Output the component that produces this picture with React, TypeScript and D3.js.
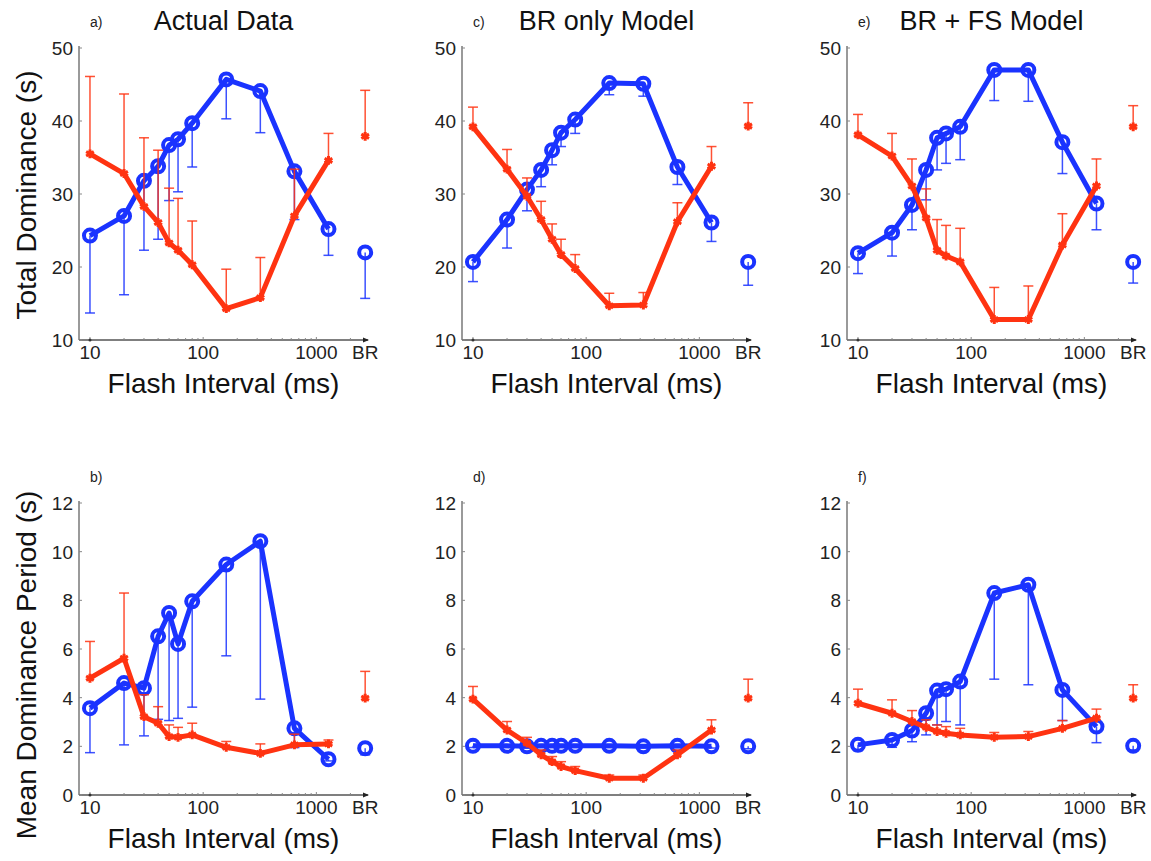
import React from 'react';
import * as d3 from 'd3';

// flash intervals (ms); the last column in every series below is the BR condition
const flashIntervals = [10, 20, 30, 40, 50, 60, 80, 160, 320, 640, 1280];
const brPosition = 2700;
const xTickValues = [10, 100, 1000, brPosition];
const xTickLabels = ['10', '100', '1000', 'BR'];
const totalTicks = [10, 20, 30, 40, 50];
const periodTicks = [0, 2, 4, 6, 8, 10, 12];

// a) Actual Data - total dominance
const aBlue = [24.3, 27.0, 31.8, 33.8, 36.7, 37.5, 39.7, 45.7, 44.1, 33.1, 25.2, 22.0];
const aBlueLo = [13.7, 16.2, 22.3, 23.8, 29.1, 30.3, 33.7, 40.3, 38.4, 26.5, 21.6, 15.7];
const aRed = [35.5, 32.8, 28.3, 26.1, 23.3, 22.3, 20.3, 14.3, 15.8, 27.0, 34.6, 37.9];
const aRedHi = [46.1, 43.7, 37.7, 36.0, 30.8, 29.4, 26.3, 19.7, 21.3, 33.4, 38.3, 44.2];

// c) BR only Model - total dominance
const cBlue = [20.7, 26.5, 30.6, 33.3, 36.0, 38.4, 40.2, 45.2, 45.1, 33.7, 26.1, 20.7];
const cBlueLo = [18.0, 22.6, 27.7, 31.0, 34.0, 36.5, 38.3, 43.6, 43.4, 31.3, 23.5, 17.5];
const cRed = [39.2, 33.4, 29.7, 26.5, 23.8, 21.7, 19.8, 14.7, 14.8, 26.2, 33.8, 39.3];
const cRedHi = [41.9, 36.1, 32.2, 29.0, 25.9, 23.8, 21.7, 16.4, 16.5, 28.8, 36.5, 42.5];

// e) BR + FS Model - total dominance
const eBlue = [21.9, 24.7, 28.5, 33.3, 37.7, 38.3, 39.2, 47.0, 47.0, 37.1, 28.7, 20.7];
const eBlueLo = [19.1, 21.5, 25.1, 29.2, 33.3, 34.2, 34.7, 42.8, 42.7, 32.8, 25.1, 17.8];
const eRed = [38.1, 35.2, 31.1, 26.7, 22.3, 21.5, 20.7, 12.8, 12.8, 23.0, 31.1, 39.2];
const eRedHi = [40.9, 38.3, 34.8, 30.7, 26.5, 25.7, 25.3, 17.2, 17.4, 27.3, 34.8, 42.1];

// b) Actual Data - mean dominance period
const bBlue = [3.57, 4.6, 4.39, 6.52, 7.48, 6.21, 7.96, 9.47, 10.43, 2.74, 1.47, 1.92];
const bBlueLo = [1.74, 2.06, 2.43, 3.11, 3.06, 3.15, 3.61, 5.72, 3.94, 1.95, 1.4, 1.65];
const bRed = [4.8, 5.62, 3.22, 2.95, 2.4, 2.37, 2.47, 1.96, 1.71, 2.06, 2.1, 3.98];
const bRedHi = [6.31, 8.3, 4.12, 3.63, 2.88, 2.78, 2.95, 2.2, 2.1, 2.5, 2.26, 5.08];

// d) BR only Model - mean dominance period
const dBlue = [2.02, 2.02, 2.0, 2.02, 2.02, 2.02, 2.02, 2.02, 2.0, 2.02, 2.0, 2.0];
const dBlueLo = [1.95, 1.95, 1.93, 1.95, 1.95, 1.95, 1.95, 1.95, 1.93, 1.95, 1.93, 1.9];
const dRed = [3.94, 2.67, 2.13, 1.65, 1.37, 1.17, 1.0, 0.69, 0.69, 1.65, 2.67, 3.98];
const dRedHi = [4.46, 3.02, 2.37, 1.85, 1.58, 1.37, 1.17, 0.82, 0.82, 1.85, 3.09, 4.76];

// f) BR + FS Model - mean dominance period
const fBlue = [2.06, 2.26, 2.65, 3.36, 4.29, 4.35, 4.66, 8.3, 8.64, 4.32, 2.81, 2.02];
const fBlueLo = [1.82, 1.96, 2.19, 2.47, 2.88, 3.02, 2.88, 4.76, 4.53, 3.06, 2.15, 1.85];
const fRed = [3.77, 3.36, 3.02, 2.78, 2.61, 2.54, 2.47, 2.37, 2.4, 2.74, 3.16, 3.98];
const fRedHi = [4.35, 3.91, 3.47, 3.09, 2.88, 2.81, 2.74, 2.57, 2.61, 3.06, 3.53, 4.53];

const BLUE = '#1a33ff';
const RED = '#ff3311';
const FONT = '"Liberation Sans", Arial, Helvetica, sans-serif';

const colX = [79, 462, 847];
const plotW = 289;
const rowY = [
  { top: 48, bottom: 340 },
  { top: 503, bottom: 795 },
];

const panels = [
  { tag: 'a)', title: 'Actual Data', col: 0, row: 0, blue: aBlue, blueLo: aBlueLo, red: aRed, redHi: aRedHi },
  { tag: 'c)', title: 'BR only Model', col: 1, row: 0, blue: cBlue, blueLo: cBlueLo, red: cRed, redHi: cRedHi },
  { tag: 'e)', title: 'BR + FS Model', col: 2, row: 0, blue: eBlue, blueLo: eBlueLo, red: eRed, redHi: eRedHi },
  { tag: 'b)', title: '', col: 0, row: 1, blue: bBlue, blueLo: bBlueLo, red: bRed, redHi: bRedHi },
  { tag: 'd)', title: '', col: 1, row: 1, blue: dBlue, blueLo: dBlueLo, red: dRed, redHi: dRedHi },
  { tag: 'f)', title: '', col: 2, row: 1, blue: fBlue, blueLo: fBlueLo, red: fRed, redHi: fRedHi },
];

const minorTicks = [10, 20, 30, 40, 50, 60, 70, 80, 90, 100, 200, 300, 400, 500, 600, 700, 800, 900, 1000, 2000];

function Panel({ p }: { p: any }) {
  const x0 = colX[p.col];
  const { top, bottom } = rowY[p.row];
  const x = d3.scaleLog().domain([8, 2860]).range([x0, x0 + plotW]);
  const yTicks = p.row === 0 ? totalTicks : periodTicks;
  const y = d3.scaleLinear().domain([yTicks[0], yTicks[yTicks.length - 1]]).range([bottom, top]);
  const xs = [...flashIntervals, brPosition];
  const line = d3.line<number>().x((_, i) => x(flashIntervals[i])).y((d) => y(d));
  const star = d3.symbol().type(d3.symbolAsterisk).size(55)();
  const cx = x0 + plotW / 2;

  return (
    <g>
      {/* axes */}
      <line x1={x0} x2={x0} y1={top - 2} y2={bottom} stroke="#9a9a9a" strokeWidth={2} />
      <line x1={x0} x2={x0 + plotW} y1={bottom} y2={bottom} stroke="#555" strokeWidth={1.5} />
      <path d={`M${x0 + plotW - 5},${bottom - 2.5}L${x0 + plotW + 1},${bottom}L${x0 + plotW - 5},${bottom + 2.5}Z`} fill="#222" />
      {minorTicks.map((t) => (
        <line key={t} x1={x(t)} x2={x(t)} y1={bottom} y2={bottom - (t === 10 || t === 100 || t === 1000 ? 3 : 2)} stroke="#888" strokeWidth={1} />
      ))}
      <circle cx={x(10)} cy={bottom} r={1.5} fill="#333" />
      {yTicks.map((t) => (
        <g key={t}>
          <line x1={x0} x2={x0 + 3} y1={y(t)} y2={y(t)} stroke="#888" strokeWidth={1} />
          <text x={x0 - 6} y={y(t) + 7} textAnchor="end" fontSize={19} fontFamily={FONT} fill="#222">{t}</text>
        </g>
      ))}
      {xTickValues.map((t, i) => (
        <text key={t} x={x(t)} y={bottom + 19} textAnchor="middle" fontSize={19} fontFamily={FONT} fill="#222">{xTickLabels[i]}</text>
      ))}
      <text x={cx} y={bottom + 53} textAnchor="middle" fontSize={28} fontFamily={FONT} fill="#111">Flash Interval (ms)</text>
      <text x={x0 + 11} y={top - 21} fontSize={14} fontFamily={FONT} fill="#222">{p.tag}</text>
      {p.title && (
        <text x={cx} y={top - 18} textAnchor="middle" fontSize={27} fontFamily={FONT} fill="#111">{p.title}</text>
      )}

      {/* blue series: error bars go down */}
      <g stroke={BLUE} strokeOpacity={0.85} strokeWidth={1.5}>
        {xs.map((xv, i) => (
          <g key={i}>
            <line x1={x(xv)} x2={x(xv)} y1={y(p.blue[i])} y2={y(p.blueLo[i])} />
            <line x1={x(xv) - 5} x2={x(xv) + 5} y1={y(p.blueLo[i])} y2={y(p.blueLo[i])} />
          </g>
        ))}
      </g>
      <path d={line(p.blue.slice(0, flashIntervals.length)) || ''} fill="none" stroke={BLUE} strokeWidth={5} strokeLinejoin="round" />
      {xs.map((xv, i) => (
        <circle key={i} cx={x(xv)} cy={y(p.blue[i])} r={6} fill="none" stroke={BLUE} strokeWidth={4} />
      ))}

      {/* red series: error bars go up */}
      <g stroke={RED} strokeOpacity={0.85} strokeWidth={1.5}>
        {xs.map((xv, i) => (
          <g key={i}>
            <line x1={x(xv)} x2={x(xv)} y1={y(p.red[i])} y2={y(p.redHi[i])} />
            <line x1={x(xv) - 5} x2={x(xv) + 5} y1={y(p.redHi[i])} y2={y(p.redHi[i])} />
          </g>
        ))}
      </g>
      <path d={line(p.red.slice(0, flashIntervals.length)) || ''} fill="none" stroke={RED} strokeWidth={5} strokeLinejoin="round" />
      {xs.map((xv, i) => (
        <path key={i} d={star || ''} transform={`translate(${x(xv)},${y(p.red[i])})`} fill="none" stroke={RED} strokeWidth={3} />
      ))}
    </g>
  );
}

export default function App() {
  return (
    <svg width={1151} height={861} style={{ position: 'absolute', left: 0, top: 0, background: '#fff' }}>
      <rect width={1151} height={861} fill="#fff" />
      {panels.map((p) => (
        <Panel key={p.tag} p={p} />
      ))}
      <text transform="translate(36,195) rotate(-90)" textAnchor="middle" fontSize={28} fontFamily={FONT} fill="#111">Total Dominance (s)</text>
      <text transform="translate(36,665) rotate(-90)" textAnchor="middle" fontSize={28} fontFamily={FONT} fill="#111">Mean Dominance Period (s)</text>
    </svg>
  );
}
